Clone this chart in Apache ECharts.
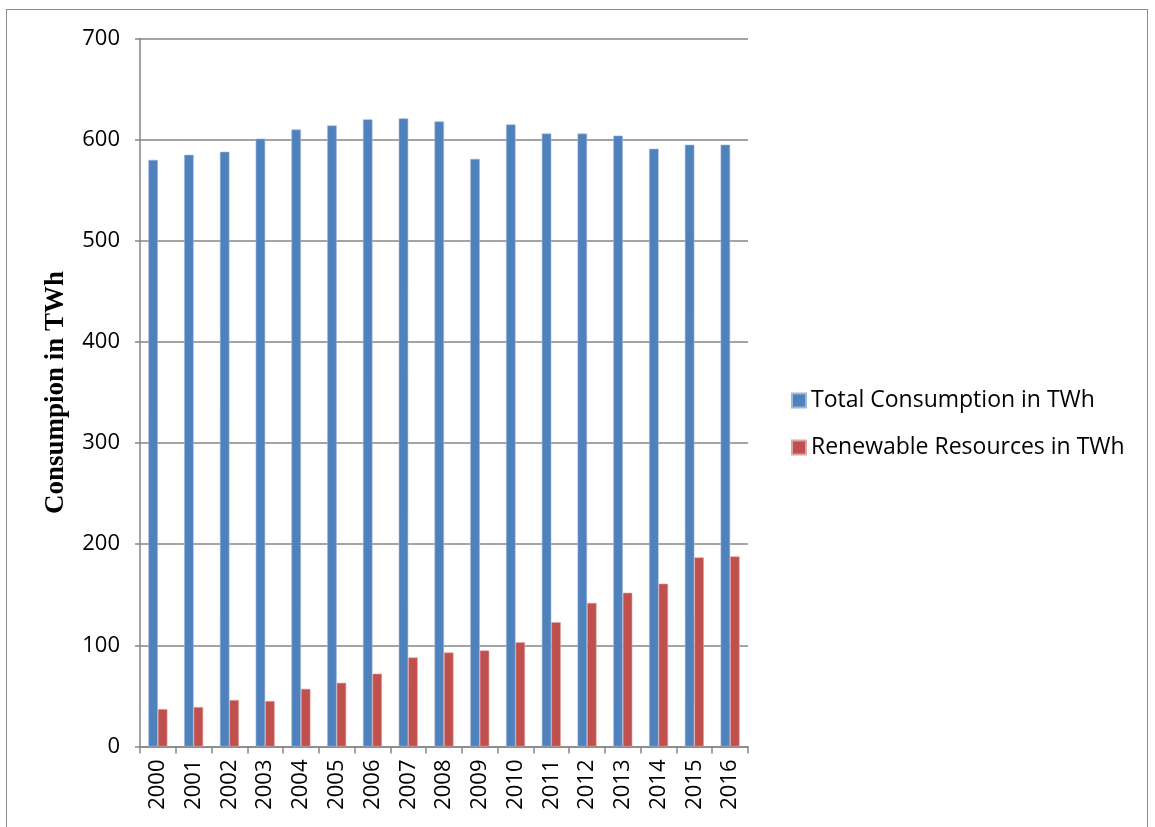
<!DOCTYPE html>
<html><head><meta charset="utf-8">
<script src="https://cdn.jsdelivr.net/npm/echarts@6/dist/echarts.min.js"></script>
<style>html,body{margin:0;padding:0;background:#fff}#c{width:1155px;height:827px}
#frame{position:absolute;left:6px;top:9px;width:1142px;height:830px;border:1px solid #8c8c8c;box-sizing:border-box;pointer-events:none}</style>
</head><body><div id="frame"></div><div id="c"></div>
<script>
const years = ['2000','2001','2002','2003','2004','2005','2006','2007','2008','2009','2010','2011','2012','2013','2014','2015','2016'];
const totalConsumption = [580,585,588,601,610,614,620,621,618,581,615,606,606,604,591,595,595];
const renewable = [37,39,46,45,57,63,72,88,93,95,103,123,142,152,161,187,188];
const yTicks = [0,100,200,300,400,500,600,700];

const chart = echarts.init(document.getElementById('c'));
const gray = '#868686';
const sans = 'Open Sans, Liberation Sans, sans-serif';
chart.setOption({
  animation:false,
  grid:{left:140,top:38.5,width:608,height:708,containLabel:false},
  legend:{
    orient:'vertical', left:786, top:384, itemWidth:14, itemHeight:14, itemGap:24,
    icon:'rect',
    textStyle:{fontFamily:sans, fontSize:23, color:'#000'},
    data:['Total Consumption in TWh','Renewable Resources in TWh']
  },
  xAxis:{
    type:'category', data:years,
    axisLine:{lineStyle:{color:gray,width:1.5}},
    axisTick:{show:true,length:7,lineStyle:{color:gray,width:1.5}},
    axisLabel:{rotate:90,fontSize:22,color:'#000',margin:13,fontFamily:sans}
  },
  yAxis:{
    type:'value', min:yTicks[0], max:yTicks[yTicks.length-1], interval:100,
    name:'Consumpion in TWh', nameLocation:'middle', nameGap:70, nameRotate:90,
    nameTextStyle:{fontFamily:'Liberation Serif, DejaVu Serif, serif',fontWeight:'bold',fontSize:27,color:'#000'},
    axisLine:{show:true,lineStyle:{color:gray,width:1.5}},
    axisTick:{show:true,length:5,lineStyle:{color:gray,width:1.5}},
    splitLine:{lineStyle:{color:gray,width:1.5}},
    axisLabel:{fontSize:22,color:'#000',margin:20,fontFamily:sans}
  },
  series:[
    {name:'Total Consumption in TWh',type:'bar',data:totalConsumption,barWidth:9.5,barGap:'0%',
     itemStyle:{color:'#4F81BD',borderColor:'#9DB7DA',borderWidth:0.6}},
    {name:'Renewable Resources in TWh',type:'bar',data:renewable,barWidth:9.5,
     itemStyle:{color:'#C0504D',borderColor:'#E0A3A1',borderWidth:0.6}}
  ]
});
</script></body></html>
